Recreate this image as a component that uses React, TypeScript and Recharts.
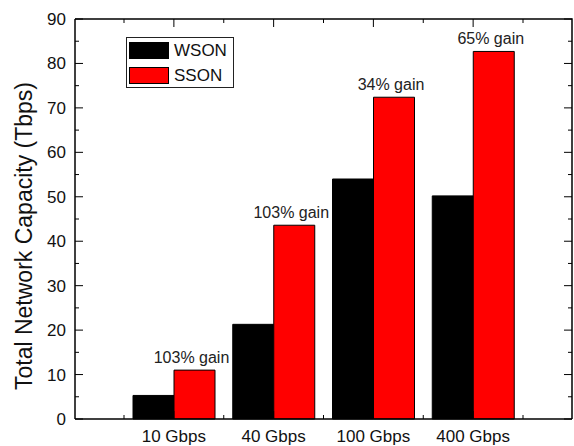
import React from "react";
import { BarChart, Bar, XAxis, YAxis, LabelList, Label } from "recharts";

const categories = ["10 Gbps", "40 Gbps", "100 Gbps", "400 Gbps"];
const wson = [5.3, 21.3, 54.0, 50.2];
const sson = [11.0, 43.6, 72.4, 82.7];
const gains = ["103% gain", "103% gain", "34% gain", "65% gain"];
const yTicks = [0, 5, 10, 15, 20, 25, 30, 35, 40, 45, 50, 55, 60, 65, 70, 75, 80, 85, 90];
const seriesNames = ["WSON", "SSON"];
const seriesColors = ["#000000", "#ff0000"];

const data = categories.map((name, i) => ({
  name,
  wson: wson[i],
  sson: sson[i],
  gain: gains[i],
}));

const W = 574;
const H = 446;
const margin = { top: 19, right: 2, bottom: 0, left: 0 };
const yAxisWidth = 75;
const xAxisHeight = 27;
const pad = 49;
const plotL = margin.left + yAxisWidth;
const plotR = W - margin.right;
const plotT = margin.top;
const plotB = H - margin.bottom - xAxisHeight;
const plotW = plotR - plotL;
const plotH = plotB - plotT;
const band = (plotW - pad * 2) / categories.length;
const font = "'Liberation Sans', Arial, sans-serif";

// left axis tick + matching inward tick on the right frame edge
const LeftTick = (props: any) => {
  const { x, y, payload } = props;
  const major = payload.value % 10 === 0;
  const len = major ? 8 : 4;
  return (
    <g>
      <line x1={x} x2={x + len} y1={y} y2={y} stroke="#000" />
      <line x1={x + plotW} x2={x + plotW - len} y1={y} y2={y} stroke="#000" />
      {major && (
        <text x={x - 9} y={y} dy={6} textAnchor="end" fontSize={17} fill="#111">
          {payload.value}
        </text>
      )}
    </g>
  );
};

// bottom axis tick + matching inward tick on the top frame edge
const BottomTick = (props: any) => {
  const { x, y, payload, index } = props;
  const last = index === categories.length - 1;
  const top = y - plotH;
  const marks = [
    { cx: x, len: 8 },
    { cx: x - band / 2, len: 4 },
  ];
  if (last) marks.push({ cx: x + band / 2, len: 4 });
  return (
    <g>
      {marks.map((m, i) => (
        <g key={i}>
          <line x1={m.cx} x2={m.cx} y1={y} y2={y - m.len} stroke="#000" />
          <line x1={m.cx} x2={m.cx} y1={top} y2={top + m.len} stroke="#000" />
        </g>
      ))}
      <text x={x} y={y + 23} textAnchor="middle" fontSize={17} fill="#111">
        {payload.value}
      </text>
    </g>
  );
};

const GainLabel = (props: any) => {
  const { x, y, width, value } = props;
  return (
    <text x={x + width / 2 - 3} y={y - 7} textAnchor="middle" fontSize={16} fill="#222">
      {value}
    </text>
  );
};

const App = () => {
  return (
    <div style={{ position: "absolute", left: 0, top: 0, width: W, height: H, fontFamily: font, background: "#fff" }}>
      <BarChart width={W} height={H} data={data} margin={margin} barGap={0} barSize={41}>
        <XAxis
          dataKey="name"
          padding={{ left: pad, right: pad }}
          height={xAxisHeight}
          tickLine={false}
          tickSize={0}
          tickMargin={0}
          interval={0}
          axisLine={{ stroke: "#000", strokeWidth: 1.5 }}
          tick={<BottomTick />}
        />
        <YAxis
          domain={[0, 90]}
          ticks={yTicks}
          interval={0}
          width={yAxisWidth}
          tickLine={false}
          tickSize={0}
          tickMargin={0}
          axisLine={{ stroke: "#000", strokeWidth: 1.5 }}
          tick={<LeftTick />}
        >
          <Label
            value="Total Network Capacity (Tbps)"
            angle={-90}
            position="center"
            dx={-14}
            dy={17}
            fontSize={23}
            fill="#111"
          />
        </YAxis>
        <Bar
          dataKey="wson"
          name={seriesNames[0]}
          fill={seriesColors[0]}
          stroke="#000"
          strokeWidth={1}
          isAnimationActive={false}
        />
        <Bar
          dataKey="sson"
          name={seriesNames[1]}
          fill={seriesColors[1]}
          stroke="#000"
          strokeWidth={1}
          isAnimationActive={false}
        >
          <LabelList dataKey="gain" content={<GainLabel />} />
        </Bar>
      </BarChart>
      {/* top and right edges of the frame */}
      <svg
        width={W}
        height={H}
        style={{ position: "absolute", left: 0, top: 0, pointerEvents: "none" }}
      >
        <polyline
          points={`${plotL},${plotT} ${plotR},${plotT} ${plotR},${plotB}`}
          fill="none"
          stroke="#000"
          strokeWidth={1.5}
        />
      </svg>
      <div
        style={{
          position: "absolute",
          left: 126,
          top: 37,
          width: 106,
          height: 49,
          border: "1px solid #222",
          boxSizing: "content-box",
        }}
      >
        {seriesNames.map((n, i) => (
          <div key={n} style={{ position: "absolute", left: 2, top: 4 + i * 25, display: "flex", alignItems: "center" }}>
            <div
              style={{
                width: 38,
                height: 15,
                background: seriesColors[i],
                border: "1px solid #000",
              }}
            />
            <span style={{ marginLeft: 5, fontSize: 17, color: "#111", lineHeight: "17px" }}>{n}</span>
          </div>
        ))}
      </div>
    </div>
  );
};

export default App;
